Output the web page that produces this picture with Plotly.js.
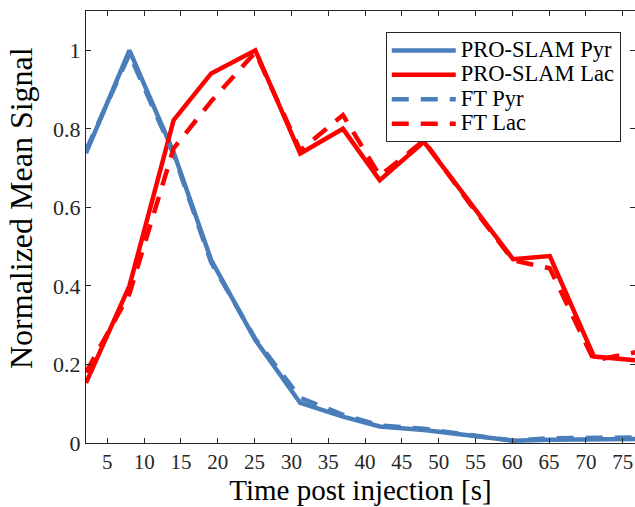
<!DOCTYPE html>
<html>
<head>
<meta charset="utf-8">
<script src="https://cdn.plot.ly/plotly-3.0.1.min.js"></script>
<style>
html,body{margin:0;padding:0;background:#fff;}
#chart{width:635px;height:507px;}
</style>
</head>
<body>
<div id="chart"></div>
<script>
const timeSec = [2.1, 8, 14, 19.1, 25.1, 31.2, 37, 42, 48, 54, 60.1, 65.1, 71.1, 77];
const proslamPyr = [0.738, 1.0, 0.74, 0.466, 0.262, 0.102, 0.067, 0.042, 0.033, 0.02, 0.006, 0.008, 0.009, 0.01];
const proslamLac = [0.153, 0.40, 0.822, 0.941, 1.0, 0.737, 0.80, 0.669, 0.767, 0.617, 0.468, 0.476, 0.22, 0.21];
const ftPyr = [0.745, 0.99, 0.735, 0.46, 0.265, 0.115, 0.072, 0.045, 0.036, 0.022, 0.006, 0.012, 0.014, 0.014];
const ftLac = [0.18, 0.38, 0.75, 0.87, 0.995, 0.745, 0.835, 0.68, 0.77, 0.615, 0.465, 0.445, 0.21, 0.232];
const seriesNames = ['PRO-SLAM Pyr', 'PRO-SLAM Lac', 'FT Pyr', 'FT Lac'];
const xTicks = [5, 10, 15, 20, 25, 30, 35, 40, 45, 50, 55, 60, 65, 70, 75];
const yTicks = [0, 0.2, 0.4, 0.6, 0.8, 1];
const yTickLabels = ['0', '0.2', '0.4', '0.6', '0.8', '1'];
const xTitle = 'Time post injection [s]';
const yTitle = 'Normalized Mean Signal';

const blue = '#4a7ebb';
const red = '#ff0000';
const dashPat = '17px,12px';
const lw = 4.5;
const legName = n => '<span style="font-size:22.5px">' + n + '</span>';

const traces = [
  {x: timeSec, y: proslamPyr, name: legName(seriesNames[0]), mode: 'lines', line: {color: blue, width: lw}},
  {x: timeSec, y: proslamLac, name: legName(seriesNames[1]), mode: 'lines', line: {color: red, width: lw}},
  {x: timeSec, y: ftPyr, name: legName(seriesNames[2]), mode: 'lines', line: {color: blue, width: lw, dash: dashPat}},
  {x: timeSec, y: ftLac, name: legName(seriesNames[3]), mode: 'lines', line: {color: red, width: lw, dash: dashPat}}
];

const axColor = '#262626';
const fontFam = '"Liberation Serif", "Times New Roman", serif';

const layout = {
  width: 635, height: 507,
  margin: {l: 86, r: 0, t: 11, b: 64, pad: 0},
  paper_bgcolor: '#fff', plot_bgcolor: '#fff',
  font: {family: fontFam, color: axColor},
  showlegend: true,
  legend: {
    x: 0.546, y: 0.951, xanchor: 'left', yanchor: 'top',
    bgcolor: '#fff', bordercolor: axColor, borderwidth: 1,
    font: {family: fontFam, size: 16.5, color: '#000'},
    itemwidth: 64,
    tracegroupgap: 0
  },
  xaxis: {
    range: [2.1, 76.67], tickvals: xTicks, ticktext: xTicks.map(String),
    ticks: 'inside', ticklen: 5, tickcolor: axColor, tickwidth: 1,
    showline: true, linecolor: axColor, linewidth: 1, mirror: 'ticks',
    showgrid: false, zeroline: false,
    tickfont: {family: fontFam, size: 21, color: axColor},
    title: {text: xTitle, font: {family: fontFam, size: 29, color: '#000'}, standoff: 3}
  },
  yaxis: {
    range: [0, 1.1], tickvals: yTicks, ticktext: yTickLabels,
    ticks: 'inside', ticklen: 5, tickcolor: axColor, tickwidth: 1,
    showline: true, linecolor: axColor, linewidth: 1, mirror: 'ticks',
    showgrid: false, zeroline: false,
    tickfont: {family: fontFam, size: 22, color: axColor}
  },
  annotations: [{
    text: yTitle, textangle: -90, showarrow: false,
    xref: 'paper', yref: 'paper', x: -0.1184, y: 0.544,
    xanchor: 'center', yanchor: 'middle',
    font: {family: fontFam, size: 32, color: '#000'}
  }]
};

Plotly.newPlot('chart', traces, layout, {displayModeBar: false, staticPlot: true});
</script>
</body>
</html>
